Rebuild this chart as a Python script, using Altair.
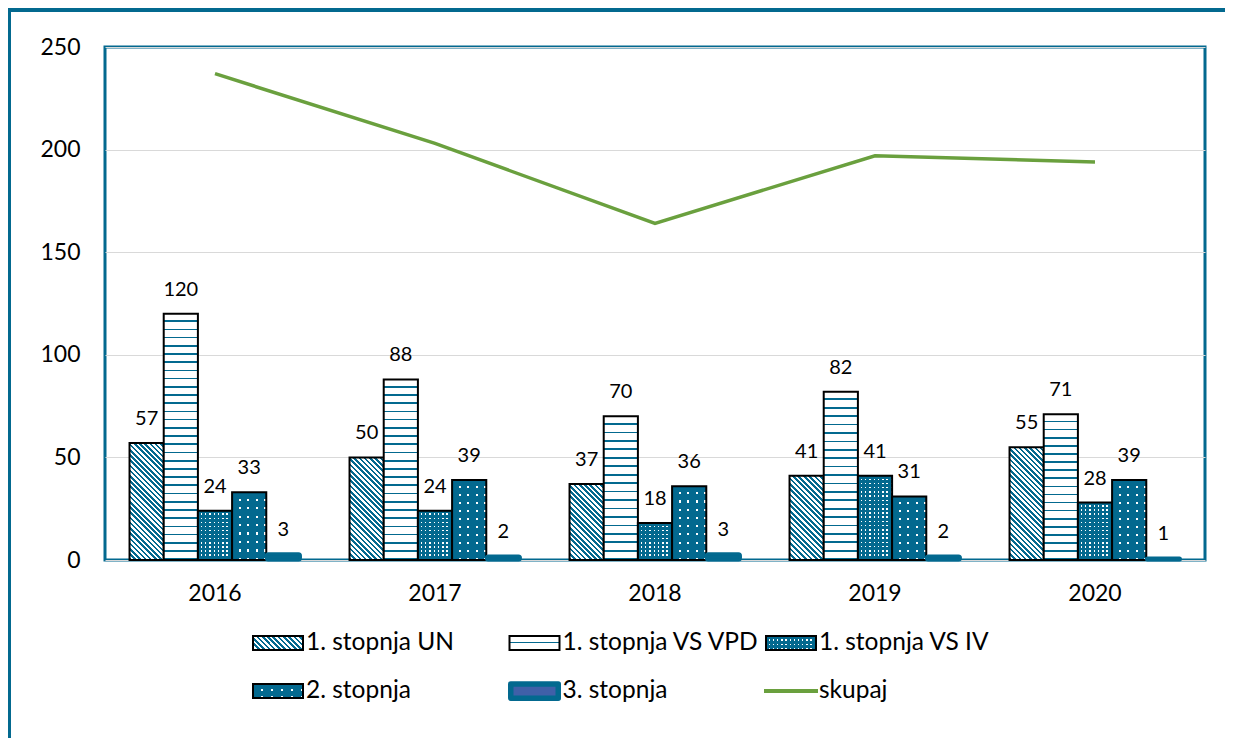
import altair as alt
import pandas as pd

# ---------------- data ----------------
years = ["2016", "2017", "2018", "2019", "2020"]
series = ["1. stopnja UN", "1. stopnja VS VPD", "1. stopnja VS IV", "2. stopnja", "3. stopnja"]
un = [57, 50, 37, 41, 55]
vs_vpd = [120, 88, 70, 82, 71]
vs_iv = [24, 24, 18, 41, 28]
stopnja2 = [33, 39, 36, 31, 39]
stopnja3 = [3, 2, 3, 2, 1]
skupaj = [237, 203, 164, 197, 194]
y_ticks = [0, 50, 100, 150, 200, 250]
legend_labels = ["1. stopnja UN", "1. stopnja VS VPD", "1. stopnja VS IV", "2. stopnja", "3. stopnja", "skupaj"]
legend_col = [0, 1, 2, 0, 1, 2]
legend_row = [0, 0, 0, 1, 1, 1]

# ---------------- layout / style ----------------
W, H, YMAX = 1100, 513, 250
PAD_IN, PAD_OUT = 0.223, 0.1115
TEAL = "#03698F"
GREEN = "#6AA03E"
CLEAR = "rgba(255,255,255,0)"
FONT = "Lato"

bar_w = W / len(years) * (1 - PAD_IN) / len(series)
px = H / YMAX

values = dict(zip(series, [un, vs_vpd, vs_iv, stopnja2, stopnja3]))
df = pd.DataFrame([{"year": y, "series": s, "value": v}
                   for s in series for y, v in zip(years, values[s])])
line_df = pd.DataFrame({"year": years, "total": skupaj})
leg_df = pd.DataFrame({"label": legend_labels, "col": legend_col, "row": legend_row})


# ---------------- pattern helpers (gradients used as fill patterns) ----------------
def stripes(n, on, off, frac):
    st = []
    for i in range(n):
        a, m, b = i / n, (i + 1 - frac) / n, (i + 1) / n
        st += [alt.GradientStop(offset=a, color=off), alt.GradientStop(offset=m, color=off),
               alt.GradientStop(offset=m, color=on), alt.GradientStop(offset=b, color=on)]
    return st


def lin(x2, y2, stops, x1=0, y1=0):
    return alt.LinearGradient(gradient="linear", x1=x1, y1=y1, x2=x2, y2=y2, stops=stops)


def diag(w, h, period):
    k = (w + h) / (w * w + h * h)
    n = max(1, round((w + h) / period))
    return lin(1 - k * w, k * h, stripes(n, TEAL, "white", 0.5), x1=1, y1=0)


def hlines(h, period, on, off, frac):
    return lin(0, 1, stripes(max(1, round(h / period)), on, off, frac))


def vlines(w, period, on, off, frac):
    return lin(1, 0, stripes(max(1, round(w / period)), on, off, frac))


# ---------------- encodings ----------------
x_enc = alt.X("year:N",
              scale=alt.Scale(domain=years, paddingInner=PAD_IN, paddingOuter=PAD_OUT),
              title=None,
              axis=alt.Axis(labelAngle=0, ticks=False, domain=False, grid=False, labelPadding=22,
                            labelFont=FONT, labelFontSize=23, labelColor="black"))
xo_enc = alt.XOffset("series:N", scale=alt.Scale(domain=series, paddingInner=0, paddingOuter=0))
y_scale = alt.Scale(domain=[0, YMAX], nice=False, zero=True)
y_axis = alt.Axis(values=y_ticks, ticks=False, domain=False, labelPadding=25,
                  labelFont=FONT, labelFontSize=23, labelColor="black",
                  grid=True, gridColor="#D9D9D9", gridWidth=1)
y_enc = alt.Y("value:Q", scale=y_scale, axis=y_axis, title=None)


def bar_layer(s, year=None, **mark):
    c = alt.Chart(df).transform_filter(alt.datum.series == s)
    if year is not None:
        c = c.transform_filter(alt.datum.year == year)
    return c.mark_bar(**mark).encode(x=x_enc, xOffset=xo_enc, y=y_enc)


layers = []
# 1. stopnja UN : diagonal stripes
for y, v in zip(years, un):
    layers.append(bar_layer(series[0], y, fill=diag(bar_w, v * px, 5.3), stroke="black", strokeWidth=2))
# 1. stopnja VS VPD : horizontal lines
for y, v in zip(years, vs_vpd):
    layers.append(bar_layer(series[1], y, fill=hlines(v * px, 8.3, TEAL, "white", 0.2),
                            stroke="black", strokeWidth=2))
# 1. stopnja VS IV : dense dots
layers.append(bar_layer(series[2], fill="white"))
layers.append(bar_layer(series[2], fill=vlines(bar_w, 4.27, CLEAR, TEAL, 0.35), strokeWidth=0))
for y, v in zip(years, vs_iv):
    layers.append(bar_layer(series[2], y, fill=hlines(v * px, 4.2, CLEAR, TEAL, 0.35),
                            stroke="black", strokeWidth=2))
# 2. stopnja : sparse dots
layers.append(bar_layer(series[3], fill="white"))
layers.append(bar_layer(series[3], fill=vlines(bar_w, 8.55, CLEAR, TEAL, 0.25), strokeWidth=0))
for y, v in zip(years, stopnja2):
    layers.append(bar_layer(series[3], y, fill=hlines(v * px, 8.0, CLEAR, TEAL, 0.25),
                            stroke="black", strokeWidth=2))
# 3. stopnja : solid teal
layers.append(bar_layer(series[4], fill=TEAL, stroke=TEAL, strokeWidth=3, cornerRadius=2))

# skupaj line
layers.append(alt.Chart(line_df).mark_line(color=GREEN, strokeWidth=3.5).encode(
    x=x_enc, y=alt.Y("total:Q", scale=y_scale, axis=y_axis, title=None)))

# value labels
layers.append(alt.Chart(df).mark_text(font=FONT, fontSize=20, color="black", baseline="alphabetic", dy=-18)
              .encode(x=x_enc, xOffset=xo_enc, y=y_enc, text="value:Q"))

main = alt.layer(*layers)

# ---------------- custom legend ----------------
lx = alt.X("col:Q", scale=alt.Scale(domain=[0, 2], range=[173, 686]), axis=None)
ly = alt.Y("row:Q", scale=alt.Scale(domain=[0, 1], range=[596, 644]), axis=None)
RECT = "M-1,-0.28H1V0.28H-1Z"
RECT3 = "M-1,-0.3H1V0.3H-1Z"


def leg_sym(label, shape=RECT, size=2500, **mark):
    return (alt.Chart(leg_df).transform_filter(alt.datum.label == label)
            .mark_point(shape=shape, size=size, opacity=1, **mark).encode(x=lx, y=ly))


leg = [
    leg_sym(legend_labels[0], filled=True, fill=diag(50, 14, 5.3), stroke="black", strokeWidth=2),
    leg_sym(legend_labels[1], filled=True, fill=hlines(14, 7, TEAL, "white", 0.2), stroke="black", strokeWidth=2),
    leg_sym(legend_labels[2], filled=True, fill="white", strokeWidth=0),
    leg_sym(legend_labels[2], filled=True, fill=vlines(50, 4.2, CLEAR, TEAL, 0.35), strokeWidth=0),
    leg_sym(legend_labels[2], filled=True, fill=hlines(14, 4.6, CLEAR, TEAL, 0.35), stroke="black", strokeWidth=2),
    leg_sym(legend_labels[3], filled=True, fill="white", strokeWidth=0),
    leg_sym(legend_labels[3], filled=True, fill=vlines(50, 10, CLEAR, TEAL, 0.2), strokeWidth=0),
    leg_sym(legend_labels[3], filled=True, fill=hlines(14, 7, CLEAR, TEAL, 0.25), stroke="black", strokeWidth=2),
    leg_sym(legend_labels[4], shape=RECT3, size=47.5 ** 2, filled=True, fill="#4060A8",
            stroke=TEAL, strokeWidth=5.5, strokeJoin="round"),
    leg_sym(legend_labels[5], shape="M-1,0H1", size=54 ** 2, filled=False, stroke=GREEN, strokeWidth=4),
    alt.Chart(leg_df).mark_text(align="left", baseline="middle", dx=28, font=FONT, fontSize=24.5, color="black")
    .encode(x=lx, y=ly, text="label:N"),
]

# page frame decoration
deco = alt.Chart(pd.DataFrame({"k": [0]}))
leg.append(deco.mark_rule(color=TEAL, strokeWidth=4).encode(x=alt.value(-97), x2=alt.value(1120), y=alt.value(-37)))
leg.append(deco.mark_rule(color=TEAL, strokeWidth=3).encode(x=alt.value(-95.5), y=alt.value(-39), y2=alt.value(691)))

legend = alt.layer(*leg)

chart = (
    alt.layer(main, legend)
    .resolve_scale(x="independent", y="independent")
    .properties(width=W, height=H,
                padding={"left": 97, "top": 39, "right": 20, "bottom": 178},
                autosize=alt.AutoSizeParams(type="none"))
    .configure_view(stroke=TEAL, strokeWidth=3)
)

chart.save("out.html", embed_options={"renderer": "svg", "actions": False})
